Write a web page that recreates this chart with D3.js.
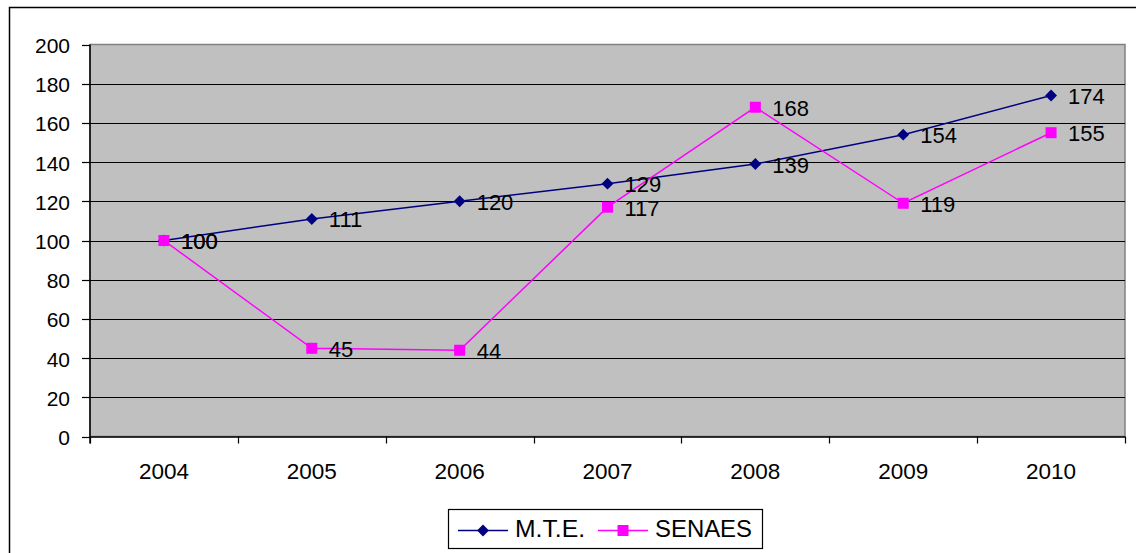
<!DOCTYPE html>
<html>
<head>
<meta charset="utf-8">
<script src="https://cdn.jsdelivr.net/npm/d3@7"></script>
<style>
  html, body { margin: 0; padding: 0; background: #fff; }
  svg { display: block; font-family: "Liberation Sans", Arial, sans-serif; }
</style>
</head>
<body>
<svg id="chart" width="1136" height="553"></svg>
<script>
// Yearly index series (2004 = 100)
const years = ["2004", "2005", "2006", "2007", "2008", "2009", "2010"];
const mte = [100, 111, 120, 129, 139, 154, 174];
const senaes = [100, 45, 44, 117, 168, 119, 155];
const yTicks = [0, 20, 40, 60, 80, 100, 120, 140, 160, 180, 200];
const seriesNames = ["M.T.E.", "SENAES"];

const svg = d3.select("#chart");
const plot = { left: 90, right: 1125, top: 44.5, bottom: 436.5 };

const x = d3.scaleBand().domain(years).range([plot.left, plot.right]).padding(0);
const y = d3.scaleLinear().domain([0, 200]).range([plot.bottom, plot.top]);
const cx = d => x(d) + x.bandwidth() / 2;

// Outer chart frame
svg.append("rect")
  .attr("x", 9.5).attr("y", 7.5).attr("width", 1140).attr("height", 560)
  .attr("fill", "#fff").attr("stroke", "#000").attr("stroke-width", 1.5);

// Plot area
svg.append("rect")
  .attr("x", plot.left).attr("y", plot.top)
  .attr("width", plot.right - plot.left).attr("height", plot.bottom - plot.top)
  .attr("fill", "#c0c0c0").attr("stroke", "#808080").attr("stroke-width", 1.5);

// Horizontal gridlines
svg.append("g").selectAll("line").data(yTicks.filter(t => t > 0 && t < 200)).join("line")
  .attr("x1", plot.left).attr("x2", plot.right)
  .attr("y1", d => Math.round(y(d)) + 0.5).attr("y2", d => Math.round(y(d)) + 0.5)
  .attr("stroke", "#000").attr("stroke-width", 1.2);

// Y axis
const yAxis = svg.append("g");
yAxis.append("line")
  .attr("x1", plot.left).attr("x2", plot.left)
  .attr("y1", plot.top).attr("y2", plot.bottom + 7)
  .attr("stroke", "#000").attr("stroke-width", 1.5);
yAxis.selectAll("line.tick").data(yTicks).join("line").attr("class", "tick")
  .attr("x1", plot.left - 8).attr("x2", plot.left)
  .attr("y1", d => Math.round(y(d)) + 0.5).attr("y2", d => Math.round(y(d)) + 0.5)
  .attr("stroke", "#000").attr("stroke-width", 1.2);
yAxis.selectAll("text").data(yTicks).join("text")
  .attr("x", 70).attr("y", d => y(d) + 8.5)
  .attr("text-anchor", "end").attr("font-size", 21).attr("fill", "#000")
  .text(d => d);

// X axis with ticks between categories
const xAxis = svg.append("g");
xAxis.append("line")
  .attr("x1", plot.left).attr("x2", plot.right)
  .attr("y1", plot.bottom + 0.5).attr("y2", plot.bottom + 0.5)
  .attr("stroke", "#000").attr("stroke-width", 1.5);
const boundaries = years.map(d => x(d)).concat([plot.right]);
xAxis.selectAll("line.tick").data(boundaries).join("line").attr("class", "tick")
  .attr("x1", d => Math.round(d) + 0.5).attr("x2", d => Math.round(d) + 0.5)
  .attr("y1", plot.bottom).attr("y2", plot.bottom + 7)
  .attr("stroke", "#000").attr("stroke-width", 1.2);
xAxis.selectAll("text").data(years).join("text")
  .attr("x", d => cx(d)).attr("y", 478.5)
  .attr("text-anchor", "middle").attr("font-size", 22.5).attr("fill", "#000")
  .text(d => d);

// Series
const line = d3.line().x(d => cx(d.year)).y(d => y(d.value));
const diamond = d3.symbol().type(d3.symbolDiamond2).size(90);

function drawSeries(values, color, marker) {
  const pts = years.map((yr, i) => ({ year: yr, value: values[i] }));
  const g = svg.append("g");
  g.append("path").datum(pts).attr("d", line)
    .attr("fill", "none").attr("stroke", color).attr("stroke-width", 1.5);
  if (marker === "diamond") {
    g.selectAll("path.m").data(pts).join("path").attr("class", "m")
      .attr("d", diamond)
      .attr("transform", d => `translate(${cx(d.year)},${y(d.value)})`)
      .attr("fill", color);
  } else {
    g.selectAll("rect.m").data(pts).join("rect").attr("class", "m")
      .attr("x", d => cx(d.year) - 5.5).attr("y", d => y(d.value) - 5.5)
      .attr("width", 11).attr("height", 11)
      .attr("fill", color);
  }
  return pts;
}

const mtePts = drawSeries(mte, "#000080", "diamond");
const senPts = drawSeries(senaes, "#ff00ff", "square");

// Value labels
svg.append("g").selectAll("text").data(mtePts.concat(senPts)).join("text")
  .attr("x", d => cx(d.year) + 17).attr("y", d => y(d.value) + 8.5)
  .attr("font-size", 22).attr("fill", "#000")
  .text(d => d.value);

// Legend
const legend = svg.append("g");
legend.append("rect")
  .attr("x", 448.5).attr("y", 509.5).attr("width", 314).attr("height", 39)
  .attr("fill", "#fff").attr("stroke", "#000").attr("stroke-width", 1.2);
const legendItems = [
  { name: seriesNames[0], color: "#000080", marker: "diamond", x0: 458 },
  { name: seriesNames[1], color: "#ff00ff", marker: "square", x0: 598 }
];
legendItems.forEach(it => {
  const ly = 530.5;
  legend.append("line")
    .attr("x1", it.x0).attr("x2", it.x0 + 50).attr("y1", ly).attr("y2", ly)
    .attr("stroke", it.color).attr("stroke-width", 1.5);
  if (it.marker === "diamond") {
    legend.append("path").attr("d", diamond)
      .attr("transform", `translate(${it.x0 + 25},${ly})`).attr("fill", it.color);
  } else {
    legend.append("rect").attr("x", it.x0 + 19.5).attr("y", ly - 5.5)
      .attr("width", 11).attr("height", 11).attr("fill", it.color);
  }
  legend.append("text")
    .attr("x", it.x0 + 57).attr("y", 537)
    .attr("font-size", 23).attr("fill", "#000")
    .attr("textLength", it.name === "SENAES" ? 97 : 70)
    .attr("lengthAdjust", "spacingAndGlyphs")
    .text(it.name);
});
</script>
</body>
</html>
